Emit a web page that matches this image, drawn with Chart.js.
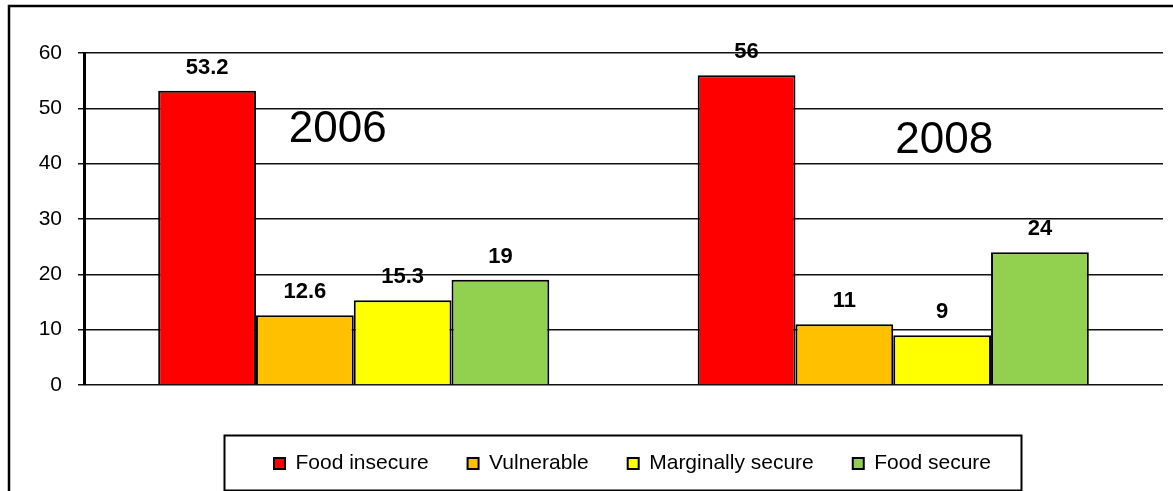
<!DOCTYPE html>
<html>
<head>
<meta charset="utf-8">
<script src="https://cdn.jsdelivr.net/npm/chart.js@4"></script>
<style>
  html, body { margin: 0; padding: 0; background: #fff; }
  #wrap { width: 1173px; height: 491px; }
</style>
</head>
<body>
<div id="wrap"><canvas id="myChart" width="1173" height="491"></canvas></div>
<script>
"use strict";

const categories = ["2006", "2008"];
const seriesNames = ["Food insecure", "Vulnerable", "Marginally secure", "Food secure"];
const foodInsecure = [53.2, 56];
const vulnerable = [12.6, 11];
const marginallySecure = [15.3, 9];
const foodSecure = [19, 24];
const seriesColors = ["#FF0000", "#FFC000", "#FFFF00", "#92D050"];
const yMin = 0;
const yMax = 60;
const yStep = 10;

Chart.defaults.font.family = "'Liberation Sans', Arial, sans-serif";
Chart.defaults.color = "#000";

// white background + outer frame
const framePlugin = {
	id: "frame",
	beforeDraw(chart) {
		const ctx = chart.ctx;
		ctx.save();
		ctx.fillStyle = "#fff";
		ctx.fillRect(0, 0, chart.width, chart.height);
		ctx.strokeStyle = "#000";
		ctx.lineWidth = 2.5;
		ctx.strokeRect(9, 6, chart.width + 20, chart.height + 20);
		ctx.restore();
	},
};

// move legend a bit right and draw its box
const legendBoxPlugin = {
	id: "legendBox",
	afterLayout(chart) {
		chart.legend.left += 41;
		chart.legend.right += 41;
	},
	afterDraw(chart) {
		const lg = chart.legend;
		const ctx = chart.ctx;
		const cx = (lg.left + lg.right) / 2;
		const hb = lg.legendHitBoxes[0];
		const midY = hb.top + hb.height / 2;
		ctx.save();
		ctx.strokeStyle = "#000";
		ctx.lineWidth = 2;
		ctx.strokeRect(cx - 408, midY - 28, 797, 55);
		ctx.restore();
	},
};

// value labels above bars, and the big year labels
const labelsPlugin = {
	id: "barLabels",
	afterDatasetsDraw(chart) {
		const ctx = chart.ctx;
		ctx.save();
		ctx.fillStyle = "#000";
		ctx.textAlign = "center";
		ctx.textBaseline = "bottom";
		ctx.font = "bold 22px 'Liberation Sans', Arial";
		chart.data.datasets.forEach(function (ds, di) {
			const meta = chart.getDatasetMeta(di);
			meta.data.forEach(function (bar, i) {
				ctx.fillText(String(ds.data[i]), bar.x, bar.y - 12);
			});
		});

		const xs = chart.scales.x;
		const ys = chart.scales.y;
		const offsets = [[-16, 44], [51, 41.9]];
		ctx.font = "44px 'Liberation Sans', Arial";
		ctx.textBaseline = "alphabetic";
		categories.forEach(function (cat, i) {
			ctx.fillText(cat, xs.getPixelForValue(i) + offsets[i][0], ys.getPixelForValue(offsets[i][1]));
		});
		ctx.restore();
	},
};

const seriesData = [foodInsecure, vulnerable, marginallySecure, foodSecure];

new Chart(document.getElementById("myChart"), {
	type: "bar",
	data: {
		labels: categories,
		datasets: seriesNames.map(function (name, i) {
			return {
				label: name,
				data: seriesData[i],
				backgroundColor: seriesColors[i],
				borderColor: "#000",
				borderWidth: 2,
				barPercentage: 1,
				categoryPercentage: 0.725,
			};
		}),
	},
	options: {
		responsive: false,
		animation: false,
		layout: { padding: { top: 53, left: 20, right: 10, bottom: 7 } },
		plugins: {
			legend: {
				position: "bottom",
				labels: {
					boxWidth: 11,
					boxHeight: 11,
					padding: 39,
					font: { size: 21 },
					color: "#000",
				},
			},
			tooltip: { enabled: false },
		},
		scales: {
			x: {
				ticks: { display: false },
				grid: { display: false },
				border: { display: false },
				afterFit(scale) {
					scale.height = 29;
				},
			},
			y: {
				min: yMin,
				max: yMax,
				ticks: { stepSize: yStep, padding: 16, font: { size: 21 }, color: "#000" },
				grid: { color: "#111", lineWidth: 1.5, tickLength: 6 },
				border: { color: "#000", width: 3 },
				afterFit(scale) {
					scale.width = 64;
				},
			},
		},
	},
	plugins: [framePlugin, legendBoxPlugin, labelsPlugin],
});
</script>
</body>
</html>
